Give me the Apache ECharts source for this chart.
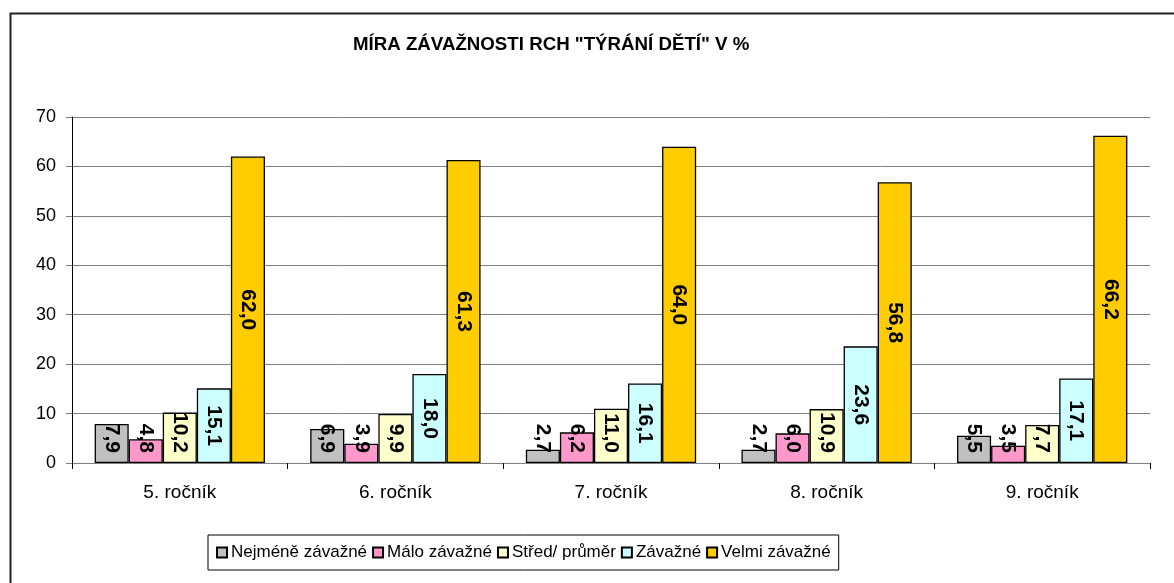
<!DOCTYPE html>
<html>
<head>
<meta charset="utf-8">
<script src="https://cdn.jsdelivr.net/npm/echarts@6/dist/echarts.min.js"></script>
<style>html,body{margin:0;padding:0;background:#fff;}#c{width:1174px;height:583px;}</style>
</head>
<body>
<div id="c"></div>
<script>
var categories = ['5. ročník', '6. ročník', '7. ročník', '8. ročník', '9. ročník'];
var seriesNames = ['Nejméně závažné', 'Málo závažné', 'Střed/ průměr', 'Závažné', 'Velmi závažné'];
var nejmeneZavazne = [7.9, 6.9, 2.7, 2.7, 5.5];
var maloZavazne = [4.8, 3.9, 6.2, 6.0, 3.5];
var stredPrumer = [10.2, 9.9, 11.0, 10.9, 7.7];
var zavazne = [15.1, 18.0, 16.1, 23.6, 17.1];
var velmiZavazne = [62.0, 61.3, 64.0, 56.8, 66.2];
var yTicks = [0, 70, 10];

var colors = ['#C0C0C0', '#FF99CC', '#FFFFCC', '#CCFFFF', '#FFCC00'];
var values = [nejmeneZavazne, maloZavazne, stredPrumer, zavazne, velmiZavazne];
var font = 'Liberation Sans, Arial, sans-serif';

function items(arr) {
  return arr.map(function (v) {
    var small = v < 12.5;
    return {
      value: v,
      label: small
        ? { position: 'insideBottom', distance: 10, align: 'right', verticalAlign: 'middle' }
        : { position: 'inside', align: 'center', verticalAlign: 'middle' }
    };
  });
}

var series = seriesNames.map(function (n, i) {
  return {
    name: n,
    type: 'bar',
    barGap: '0%',
    barCategoryGap: '21%',
    itemStyle: { color: colors[i], borderColor: '#000', borderWidth: 1.3 },
    label: {
      show: true,
      rotate: -90,
      color: '#000',
      fontFamily: font,
      fontWeight: 'bold',
      fontSize: 21,
      formatter: function (p) { return p.value.toFixed(1).replace('.', ','); }
    },
    emphasis: { disabled: true },
    data: items(values[i])
  };
});

var chart = echarts.init(document.getElementById('c'), null, { renderer: 'canvas' });
chart.setOption({
  animation: false,
  backgroundColor: '#fff',
  title: {
    text: 'MÍRA ZÁVAŽNOSTI RCH "TÝRÁNÍ DĚTÍ" V %',
    left: 353,
    top: 35,
    padding: 0,
    textStyle: { fontFamily: font, fontWeight: 'bold', fontSize: 18.7, color: '#000' }
  },
  graphic: [{
    type: 'rect', left: 8, top: 11, silent: true,
    shape: { width: 1200, height: 620 },
    style: { fill: 'none', stroke: '#222', lineWidth: 2 }
  }],
  legend: {
    left: 208,
    top: 535,
    orient: 'horizontal',
    padding: [9, 8, 9, 8],
    itemGap: 5,
    itemWidth: 10,
    itemHeight: 10,
    borderColor: '#000',
    borderWidth: 1,
    icon: 'rect',
    textStyle: { fontFamily: font, fontSize: 17, color: '#000', padding: [0, 0, 0, -1] },
    data: seriesNames
  },
  grid: { left: 72, right: 24, top: 117, bottom: 120, containLabel: false },
  xAxis: {
    type: 'category',
    data: categories,
    axisLine: { lineStyle: { color: '#808080', width: 1 } },
    axisTick: { show: true, length: 6, lineStyle: { color: '#000' } },
    axisLabel: { fontFamily: font, fontSize: 19, color: '#000', margin: 20 },
    splitLine: { show: false }
  },
  yAxis: {
    type: 'value',
    min: yTicks[0],
    max: yTicks[1],
    interval: yTicks[2],
    axisLine: { show: true, lineStyle: { color: '#000', width: 1 } },
    axisTick: { show: true, length: 6, lineStyle: { color: '#808080' } },
    axisLabel: { fontFamily: font, fontSize: 18, color: '#000', margin: 16 },
    splitLine: { show: true, lineStyle: { color: '#808080', width: 1 } }
  },
  series: series
});
</script>
</body>
</html>
